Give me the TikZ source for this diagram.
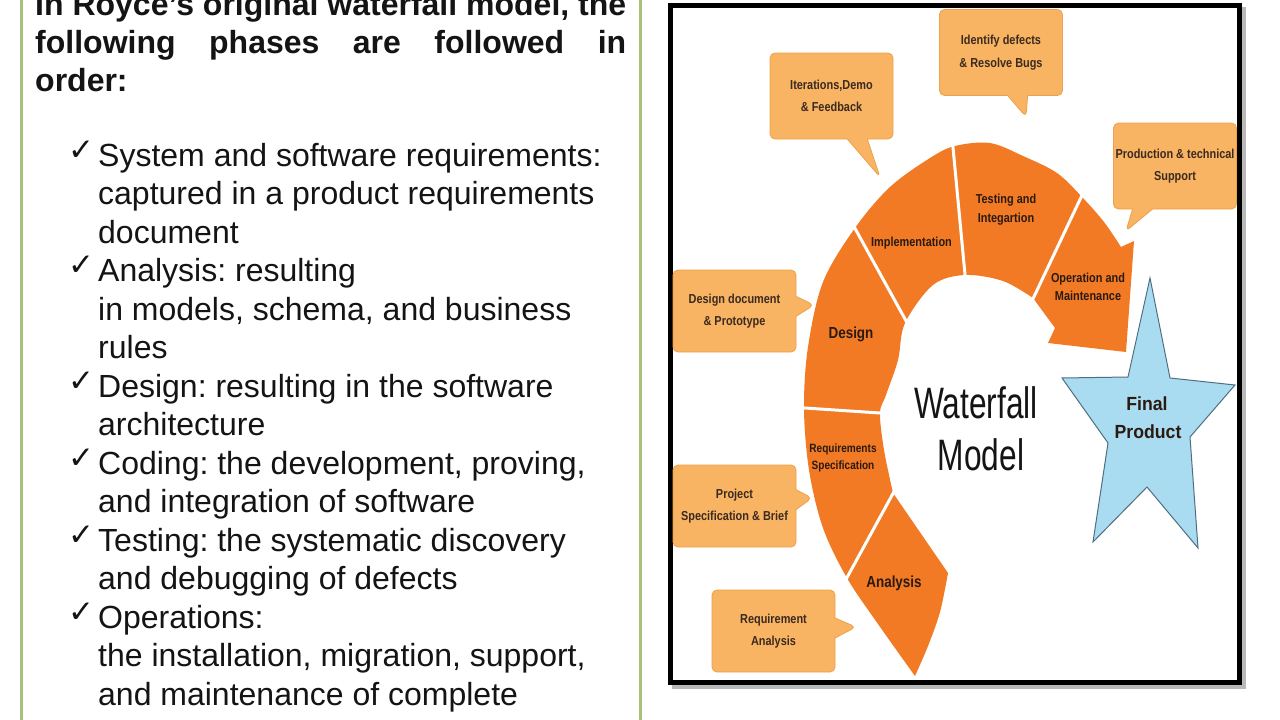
\documentclass[tikz,border=0pt]{standalone}
\usepackage{fontspec}
\setmainfont{Liberation Sans}
\newfontfamily\checkfont{DejaVu Sans}
\newfontfamily\narrowbf{Liberation Sans}[FakeStretch=0.84]
\newfontfamily\narrowrm{Liberation Sans}[FakeStretch=0.72]
\newfontfamily\starbf{Liberation Sans}[FakeStretch=0.93]
\usetikzlibrary{shapes.callouts}
\definecolor{bandorange}{HTML}{F27A24}
\definecolor{callfill}{HTML}{F8B462}
\definecolor{calldraw}{HTML}{EEA04A}
\definecolor{starfill}{HTML}{AADCF1}
\definecolor{stardraw}{HTML}{506E82}
\definecolor{panelgreen}{HTML}{A9BF7C}
\definecolor{labeltext}{HTML}{2A1A12}
\definecolor{calltext}{HTML}{3A2A20}
\definecolor{bodytext}{HTML}{141414}
\frenchspacing
\begin{document}
\begin{tikzpicture}[x=1pt,y=-1pt,
  bodyline/.style={anchor=base west, inner sep=0, text=bodytext, font=\fontsize{32}{38.5}\selectfont},
  headline/.style={anchor=base west, inner sep=0, text=bodytext, font=\fontsize{32}{38.5}\selectfont\bfseries},
  tick/.style={anchor=base west, inner sep=0, text=bodytext, font=\checkfont\fontsize{31}{31}\selectfont},
  callbox/.style={rectangle callout, fill=callfill, draw=calldraw, line width=0.8pt, rounded corners=5pt,
    inner sep=0pt, align=center, text=calltext, font=\narrowbf\bfseries\fontsize{13}{22.5}\selectfont,
    minimum width=123pt, minimum height=86pt, callout pointer width=20pt},
  bandL/.style={anchor=base, inner sep=0, text=labeltext, font=\narrowbf\bfseries\fontsize{16}{16}\selectfont},
  bandM/.style={anchor=base, inner sep=0, text=labeltext, font=\narrowbf\bfseries\fontsize{13}{13}\selectfont},
  bandS/.style={anchor=base, inner sep=0, text=labeltext, font=\narrowbf\bfseries\fontsize{12}{12}\selectfont},
  sep/.style={white, line width=3pt},
  titletext/.style={anchor=base, inner sep=0, text=bodytext, font=\narrowrm\fontsize{44}{44}\selectfont},
  startext/.style={anchor=base, inner sep=0, text=labeltext, font=\starbf\bfseries\fontsize{19}{19}\selectfont}
]
\useasboundingbox (0,0) rectangle (1280,720);
\fill[white] (0,0) rectangle (1280,720);

% left panel
\draw[panelgreen, line width=3pt] (21,-10) rectangle (640,730);
\node[headline] (h1) at (35,15) {\makebox[591pt][s]{In Royce’s original waterfall model, the}};
\node[headline] (h2) at (35,53) {\makebox[591pt][s]{following phases are followed in}};
\node[headline] (h3) at (35,91.5) {order:};

\node[tick] (c1) at (68,160) {✓};
\node[bodyline] (b1) at (98,166) {System and software requirements:};
\node[bodyline] (b2) at (98,204.5) {captured in a product requirements};
\node[bodyline] (b3) at (98,243) {document};
\node[tick] (c2) at (68,275.5) {✓};
\node[bodyline] (b4) at (98,281.5) {Analysis: resulting};
\node[bodyline] (b5) at (98,320) {in models, schema, and business};
\node[bodyline] (b6) at (98,358.5) {rules};
\node[tick] (c3) at (68,391) {✓};
\node[bodyline] (b7) at (98,397) {Design: resulting in the software};
\node[bodyline] (b8) at (98,435.5) {architecture};
\node[tick] (c4) at (68,468) {✓};
\node[bodyline] (b9) at (98,474) {Coding: the development, proving,};
\node[bodyline] (b10) at (98,512.5) {and integration of software};
\node[tick] (c5) at (68,545) {✓};
\node[bodyline] (b11) at (98,551) {Testing: the systematic discovery};
\node[bodyline] (b12) at (98,589.5) {and debugging of defects};
\node[tick] (c6) at (68,622) {✓};
\node[bodyline] (b13) at (98,628) {Operations:};
\node[bodyline] (b14) at (98,666.5) {the installation, migration, support,};
\node[bodyline] (b15) at (98,705) {and maintenance of complete};

% right frame
\draw[gray!55, line width=5pt] (674.5,9) rectangle (1243.5,686.5);
\fill[white] (670.5,5) rectangle (1239.5,682.5);
\draw[black, line width=5pt] (670.5,5) rectangle (1239.5,682.5);

% waterfall band
\fill[bandorange]
  plot[smooth, tension=0.55] coordinates {(915,676) (878,624) (847,578) (823,528) (809,470) (804,408) (808,347) (823,282) (855,228) (890,187) (930,158) (955,146) (990,143) (1023,156) (1057,173) (1082,197) (1104,222) (1121,247)}
  -- (1134,241) -- (1126,352) -- (1048,343) -- (1055,328) -- (1033,298)
  -- plot[smooth, tension=0.55] coordinates {(1033,298) (1003,281) (965,275) (933,285) (905,323) (898,360) (886,395) (880,413) (884,450) (893,493)}
  -- (948,573)
  -- plot[smooth, tension=0.55] coordinates {(948,573) (940,612) (928,646) (915,676)} -- cycle;
\draw[sep] (852,223) -- (910,328);
\draw[sep] (952.4,141) -- (965.6,281);
\draw[sep] (1084.5,190) -- (1031,303);
\draw[sep] (799,407.6) -- (886,413.4);
\draw[sep] (844,583) -- (896,488);

\node[bandL] (lDesign) at (851,338) {Design};
\node[bandM] (lImpl) at (911.5,246) {Implementation};
\node[bandM] (lTest1) at (1006,203) {Testing and};
\node[bandM] (lTest2) at (1006,222) {Integartion};
\node[bandM] (lOp1) at (1088,282) {Operation and};
\node[bandM] (lOp2) at (1088,300) {Maintenance};
\node[bandS] (lReq1) at (843,452) {Requirements};
\node[bandS] (lReq2) at (843,469) {Specification};
\node[bandL] (lAna) at (894,587) {Analysis};

% callouts
\node[callbox, callout absolute pointer={(880,177)}] (cIter) at (831.5,96) {Iterations,Demo\\\& Feedback};
\node[callbox, callout absolute pointer={(1026,117)}] (cIdent) at (1001,52.5) {Identify defects\\\& Resolve Bugs};
\node[callbox, callout absolute pointer={(1126,231)}] (cProd) at (1175,166) {Production \& technical\\Support};
\node[callbox, callout absolute pointer={(814,305)}, minimum height=82pt] (cDes) at (734.5,311) {Design document\\\& Prototype};
\node[callbox, callout absolute pointer={(812,498)}, minimum height=82pt] (cProj) at (734.5,506) {Project\\Specification \& Brief};
\node[callbox, callout absolute pointer={(856,627)}, minimum height=82pt] (cReq) at (773.5,631) {Requirement\\Analysis};

% title
\node[titletext] (t1) at (976,418) {Waterfall};
\node[titletext] (t2) at (981,470) {Model};

% star
\draw[fill=starfill, draw=stardraw, line width=1pt, line join=miter]
  (1150,278) -- (1170,378) -- (1235,385) -- (1190,437) -- (1198,548) -- (1147,487)
  -- (1093,542) -- (1108,443) -- (1062,378) -- (1128,377) -- cycle;
\node[startext] (s1) at (1147,410) {Final};
\node[startext] (s2) at (1148,438) {Product};
\end{tikzpicture}
\end{document}
